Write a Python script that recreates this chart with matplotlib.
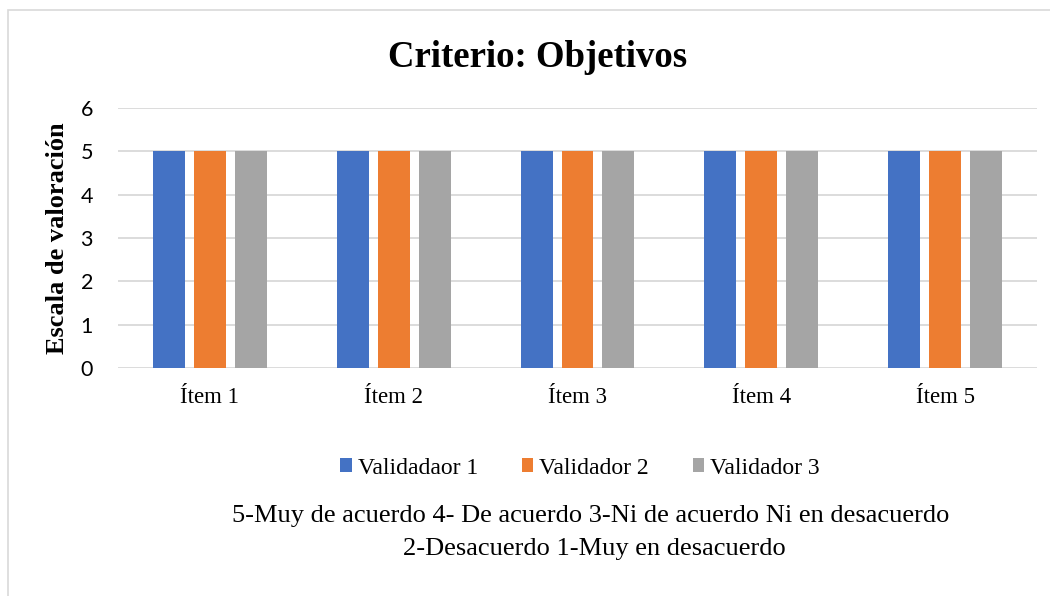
import matplotlib.pyplot as plt
import numpy as np
from matplotlib.patches import Rectangle

items = ['Ítem 1', 'Ítem 2', 'Ítem 3', 'Ítem 4', 'Ítem 5']
validador1 = [5, 5, 5, 5, 5]
validador2 = [5, 5, 5, 5, 5]
validador3 = [5, 5, 5, 5, 5]
series_names = ['Validadaor 1', 'Validador 2', 'Validador 3']
colors = ['#4472C4', '#ED7D31', '#A5A5A5']

serif = ['Liberation Serif', 'DejaVu Serif']
sans = ['Lato', 'DejaVu Sans']

fig = plt.figure(figsize=(10.5, 5.96), dpi=100)
# outer chart border (partly cropped on right/bottom)
fig.patches.append(Rectangle((8 / 1050, -0.1), 1.2, 1 - 10 / 596 + 0.1,
                             transform=fig.transFigure, fill=False,
                             edgecolor='#D9D9D9', linewidth=1.2))

ax = fig.add_axes([118 / 1050, 1 - 368 / 596, (1037 - 118) / 1050, (368 - 108) / 596])

x = np.arange(len(items))
w = 0.174
off = 0.223
for i, vals in enumerate([validador1, validador2, validador3]):
    ax.bar(x + (i - 1) * off, vals, w, color=colors[i], label=series_names[i], zorder=3)

ax.set_xlim(-0.5, 4.5)
ax.set_ylim(0, 6)
ax.set_yticks(range(0, 7))
ax.yaxis.grid(True, color='#D9D9D9', linewidth=1.3, zorder=0)
for s in ax.spines.values():
    s.set_visible(False)
ax.tick_params(length=0)
ax.tick_params(axis='y', pad=18)
ax.tick_params(axis='x', pad=14)
ax.set_xticks(x)
ax.set_xticklabels(items, family=serif, fontsize=16.5)
for lab in ax.get_yticklabels():
    lab.set_family(sans)
    lab.set_fontsize(15.5)

ax.set_ylabel('Escala de valoración', family=serif, fontsize=19, fontweight='bold')
ax.yaxis.set_label_coords(-(118 - 57) / 919, 0.5)
ax.yaxis.label.set_va('center')

fig.text(538 / 1050, 1 - 67 / 596, 'Criterio: Objetivos', family=serif, fontsize=26.5,
         fontweight='bold', ha='center', va='baseline')

fig.legend(loc='center', bbox_to_anchor=(580 / 1050, 1 - 468 / 596), ncol=3,
           frameon=False, prop={'family': serif, 'size': 17},
           handlelength=0.5, handleheight=0.5, handletextpad=0.25, columnspacing=1.85)

fig.text(591 / 1050, 1 - 522 / 596,
         '5-Muy de acuerdo 4- De acuerdo 3-Ni de acuerdo Ni en desacuerdo',
         family=serif, fontsize=19, ha='center', va='baseline')
fig.text(594 / 1050, 1 - 555 / 596, '2-Desacuerdo 1-Muy en desacuerdo',
         family=serif, fontsize=19, ha='center', va='baseline')

fig.savefig('out.png', dpi=100)
